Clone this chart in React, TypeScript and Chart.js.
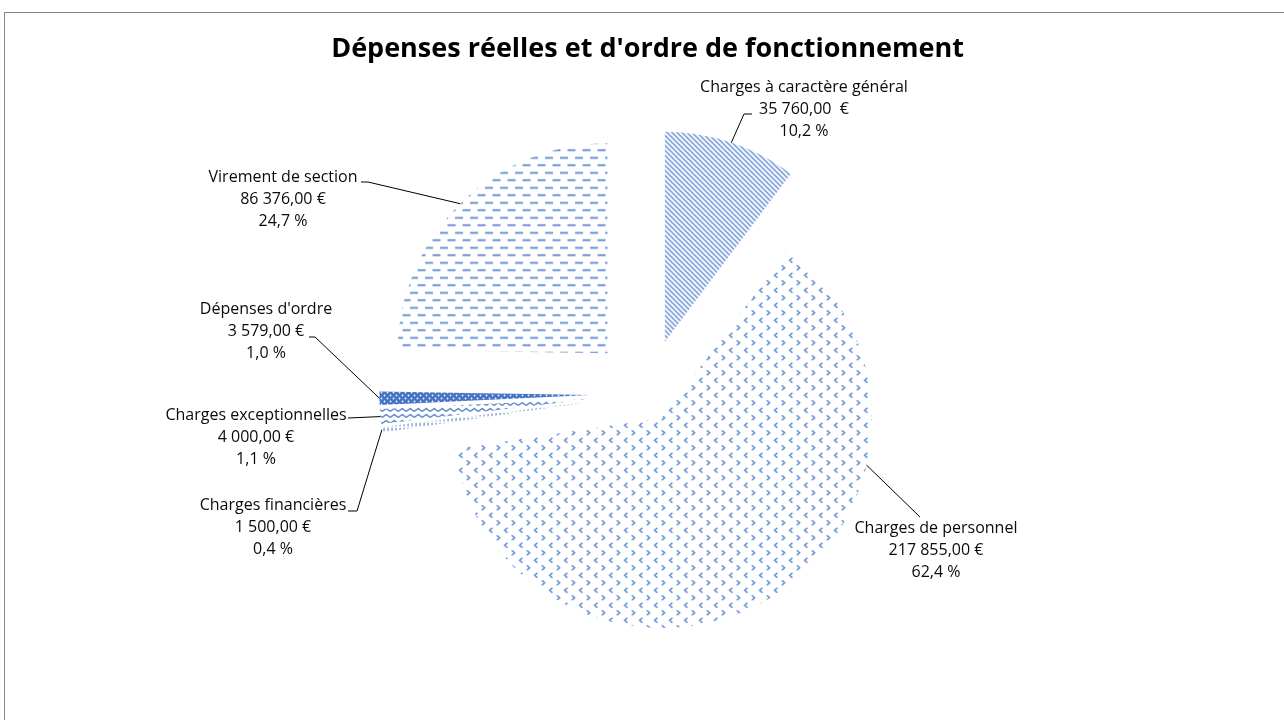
import React, { useEffect, useRef } from 'react';
import { Chart, registerables } from 'chart.js';

Chart.register(...registerables);

// ---------- data ----------
const TITLE = "Dépenses réelles et d'ordre de fonctionnement";
const categories = [
  'Charges à caractère général',
  'Charges de personnel',
  'Charges financières',
  'Charges exceptionnelles',
  "Dépenses d'ordre",
  'Virement de section',
];
const amounts = [35760, 217855, 1500, 4000, 3579, 86376];
const amountLabels = [
  '35 760,00  €',
  '217 855,00 €',
  '1 500,00 €',
  '4 000,00 €',
  '3 579,00 €',
  '86 376,00 €',
];

// ---------- layout / style ----------
const W = 1284;
const H = 720;
const explodeDist = [55, 28, 58, 58, 58, 57];
const labelCenters: number[][] = [
  [804, 87],
  [936, 528],
  [273, 505],
  [256, 415],
  [266, 309],
  [283, 177],
];
const lineGap = 22;
const leaderAttach = [0.5, 0.294, 0.5, 0.5, 0.5, 0.5];
const leaderStart: number[][] = [
  [752, 114],
  [920, 517],
  [348, 511],
  [348, 418],
  [309, 337],
  [361, 182],
];
const leaderElbow: (number[] | null)[] = [
  [744, 114],
  null,
  [357, 511],
  null,
  [315, 337],
  [368, 182],
];
const FONT = '"Open Sans", Lato, sans-serif';

function pct(i: number) {
  const total = amounts.reduce((a, b) => a + b, 0);
  return (amounts[i] / total * 100).toFixed(1).replace('.', ',') + ' %';
}

function makePattern(
  ctx: CanvasRenderingContext2D,
  w: number,
  h: number,
  draw: (g: CanvasRenderingContext2D) => void
) {
  const c = document.createElement('canvas');
  c.width = w;
  c.height = h;
  const g = c.getContext('2d') as CanvasRenderingContext2D;
  draw(g);
  return ctx.createPattern(c, 'repeat') as CanvasPattern;
}

function buildPatterns(ctx: CanvasRenderingContext2D) {
  const blue = '#4472c4';
  // 0: downward diagonal stripes
  const p0 = makePattern(ctx, 5, 5, (g) => {
    g.strokeStyle = '#5b88cf';
    g.lineWidth = 1.3;
    g.beginPath();
    g.moveTo(-1, -1); g.lineTo(6, 6);
    g.moveTo(-1, 4); g.lineTo(1, 6);
    g.moveTo(4, -1); g.lineTo(6, 1);
    g.stroke();
  });
  // 1: small chevrons (divot)
  const p1 = makePattern(ctx, 15, 15, (g) => {
    g.strokeStyle = '#4f80cf';
    g.lineWidth = 1.4;
    const lt = (x: number, y: number) => { g.moveTo(x + 1.5, y - 2.4); g.lineTo(x - 1.2, y); g.lineTo(x + 1.5, y + 2.4); };
    const gt = (x: number, y: number) => { g.moveTo(x - 1.5, y - 2.4); g.lineTo(x + 1.2, y); g.lineTo(x - 1.5, y + 2.4); };
    g.beginPath();
    gt(4, 3.75);
    lt(11.5, 11.25);
    g.stroke();
  });
  // 2: short vertical ticks
  const p2 = makePattern(ctx, 4, 5, (g) => {
    g.strokeStyle = blue;
    g.lineWidth = 1;
    g.beginPath();
    g.moveTo(1.5, 0); g.lineTo(1.5, 3.5);
    g.stroke();
  });
  // 3: zigzag
  const p3 = makePattern(ctx, 8, 6, (g) => {
    g.strokeStyle = blue;
    g.lineWidth = 1.2;
    g.beginPath();
    g.moveTo(0, 4.5); g.lineTo(4, 1.5); g.lineTo(8, 4.5);
    g.stroke();
  });
  // 4: solid with white dots
  const p4 = makePattern(ctx, 6, 6, (g) => {
    g.fillStyle = blue;
    g.fillRect(0, 0, 6, 6);
    g.fillStyle = '#ffffff';
    g.beginPath();
    g.arc(1.5, 1.5, 0.9, 0, Math.PI * 2);
    g.arc(4.5, 4.5, 0.9, 0, Math.PI * 2);
    g.fill();
  });
  // 5: dashed horizontal
  const p5 = makePattern(ctx, 15, 15, (g) => {
    g.fillStyle = '#5e8ad0';
    g.fillRect(0, 2.6, 8, 1.8);
    g.fillRect(7.5, 9.9, 8, 1.8);
    g.fillRect(-7.5, 9.9, 8, 1.8);
  });
  return [p0, p1, p2, p3, p4, p5];
}

const framePlugin = {
  id: 'frame',
  beforeDraw(chart: any) {
    const ctx = chart.ctx as CanvasRenderingContext2D;
    ctx.save();
    ctx.fillStyle = '#ffffff';
    ctx.fillRect(0, 0, W, H);
    ctx.strokeStyle = '#878787';
    ctx.lineWidth = 1;
    ctx.strokeRect(4.5, 12.5, W + 20, H + 20);
    ctx.restore();
  },
};

const explodePlugin = {
  id: 'explode',
  beforeDatasetDraw(chart: any, args: any) {
    const meta = chart.getDatasetMeta(args.index);
    const ctx = chart.ctx as CanvasRenderingContext2D;
    meta.data.forEach((arc: any, i: number) => {
      const p = arc.getProps(['startAngle', 'endAngle'], true);
      const mid = (p.startAngle + p.endAngle) / 2;
      ctx.save();
      ctx.translate(Math.cos(mid) * explodeDist[i], Math.sin(mid) * explodeDist[i]);
      arc.draw(ctx);
      ctx.restore();
    });
    return false;
  },
};

const labelPlugin = {
  id: 'sliceLabels',
  afterDatasetsDraw(chart: any) {
    const meta = chart.getDatasetMeta(0);
    const ctx = chart.ctx as CanvasRenderingContext2D;
    ctx.save();
    meta.data.forEach((arc: any, i: number) => {
      const p = arc.getProps(['x', 'y', 'startAngle', 'endAngle', 'outerRadius'], true);
      const mid = (p.startAngle + p.endAngle) / 2;
      const ax = p.x + Math.cos(mid) * explodeDist[i];
      const ay = p.y + Math.sin(mid) * explodeDist[i];
      const a = p.startAngle + (p.endAngle - p.startAngle) * leaderAttach[i];
      const ex = ax + Math.cos(a) * p.outerRadius;
      const ey = ay + Math.sin(a) * p.outerRadius;
      ctx.strokeStyle = '#000000';
      ctx.lineWidth = 1;
      ctx.beginPath();
      ctx.moveTo(leaderStart[i][0], leaderStart[i][1]);
      const el = leaderElbow[i];
      if (el) ctx.lineTo(el[0], el[1]);
      ctx.lineTo(ex, ey);
      ctx.stroke();

      ctx.fillStyle = '#0a0a0a';
      ctx.font = `16px ${FONT}`;
      ctx.textAlign = 'center';
      ctx.textBaseline = 'middle';
      const lines = [categories[i], amountLabels[i], pct(i)];
      lines.forEach((t, k) => {
        ctx.fillText(t, labelCenters[i][0], labelCenters[i][1] + k * lineGap);
      });
    });
    ctx.restore();
  },
};

export default function App() {
  const ref = useRef<HTMLCanvasElement>(null);
  useEffect(() => {
    document.body.style.margin = '0';
    const canvas = ref.current as HTMLCanvasElement;
    const ctx = canvas.getContext('2d') as CanvasRenderingContext2D;
    const patterns = buildPatterns(ctx);
    const chart = new Chart(canvas, {
      type: 'pie',
      data: {
        labels: categories,
        datasets: [
          {
            data: amounts,
            backgroundColor: patterns as any,
            borderWidth: 0,
            hoverOffset: 0,
          },
        ],
      },
      options: {
        responsive: false,
        animation: false,
        events: [],
        layout: { padding: { left: 11, right: 0, top: 0, bottom: 116 } },
        plugins: {
          legend: { display: false },
          tooltip: { enabled: false },
          title: {
            display: true,
            text: TITLE,
            color: '#000000',
            font: { family: FONT, size: 27, weight: 'bold', lineHeight: 1.2 },
            padding: { top: 33, bottom: 118.6 },
          },
        },
      },
      plugins: [framePlugin, explodePlugin, labelPlugin],
    });
    return () => chart.destroy();
  }, []);
  return (
    <div style={{ width: W, height: H }}>
      <canvas ref={ref} width={W} height={H} style={{ display: 'block' }} />
    </div>
  );
}
